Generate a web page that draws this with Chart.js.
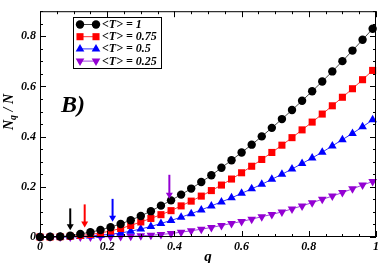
<!DOCTYPE html>
<html lang="en">
<head>
    <meta charset="UTF-8">
    <title>Nq / N vs q</title>
    <script src="https://cdn.jsdelivr.net/npm/chart.js"></script>
    <style>
        html, body { margin: 0; padding: 0; background: #fff; }
        #wrap { position: relative; width: 382px; height: 263px; }
    </style>
</head>
<body>
    <div id="wrap"><canvas id="chart" width="382" height="263"></canvas></div>
    <script>
        // q values (x axis)
        const q = [0.00, 0.03, 0.06, 0.09, 0.12, 0.15, 0.18, 0.21, 0.24, 0.27,
                   0.30, 0.33, 0.36, 0.39, 0.42, 0.45, 0.48, 0.51, 0.54, 0.57,
                   0.60, 0.63, 0.66, 0.69, 0.72, 0.75, 0.78, 0.81, 0.84, 0.87,
                   0.90, 0.93, 0.96, 0.99];

        const seriesLabels = ['1', '0.75', '0.5', '0.25'];

        const t100 = [0.000, 0.001, 0.002, 0.005, 0.012, 0.019, 0.028, 0.039, 0.052, 0.067,
                      0.084, 0.103, 0.125, 0.146, 0.169, 0.193, 0.219, 0.246, 0.276, 0.306,
                      0.337, 0.368, 0.401, 0.435, 0.470, 0.506, 0.543, 0.581, 0.620, 0.660,
                      0.701, 0.743, 0.786, 0.830];
        const t075 = [0.000, 0.000, 0.001, 0.003, 0.006, 0.010, 0.016, 0.024, 0.034, 0.046,
                      0.060, 0.074, 0.089, 0.105, 0.124, 0.143, 0.163, 0.185, 0.207, 0.231,
                      0.256, 0.282, 0.309, 0.337, 0.366, 0.396, 0.427, 0.458, 0.490, 0.523,
                      0.557, 0.591, 0.627, 0.664];
        const t050 = [0.000, 0.000, 0.000, 0.001, 0.002, 0.004, 0.007, 0.011, 0.016, 0.023,
                      0.032, 0.042, 0.054, 0.066, 0.079, 0.093, 0.108, 0.124, 0.140, 0.156,
                      0.174, 0.192, 0.210, 0.230, 0.250, 0.271, 0.293, 0.315, 0.338, 0.363,
                      0.388, 0.413, 0.439, 0.467];
        const t025 = [0.000, 0.000, 0.000, 0.000, 0.000, 0.000, 0.001, 0.001, 0.002, 0.003,
                      0.005, 0.007, 0.010, 0.014, 0.019, 0.025, 0.031, 0.038, 0.046, 0.054,
                      0.062, 0.071, 0.081, 0.090, 0.100, 0.112, 0.124, 0.137, 0.150, 0.163,
                      0.177, 0.192, 0.207, 0.221];

        // threshold arrows: q position, top and tip (in N_q/N units)
        const arrowQ   = [0.09, 0.133, 0.216, 0.385];
        const arrowTop = [0.114, 0.130, 0.152, 0.248];
        const arrowTip = [0.027, 0.038, 0.061, 0.152];

        const xTicks = [0, 0.2, 0.4, 0.6, 0.8, 1];
        const yTicks = [0, 0.2, 0.4, 0.6, 0.8];

        const colors = ['#000000', '#ff0000', '#0000ff', '#9400d3'];
        const lineColors = ['#444444', '#ff3030', '#3030ff', '#a040e0'];
        const shapes = ['circle', 'rect', 'triangle', 'triangle'];
        const rotations = [0, 0, 0, 180];
        const radii = [4.2, 5, 5, 5];

        const seriesData = [t100, t075, t050, t025];
        const serif = "'Liberation Serif', 'DejaVu Serif', serif";

        const datasets = seriesData.map((vals, k) => ({
            label: '<T> = ' + seriesLabels[k],
            data: q.map((x, i) => ({ x: x, y: vals[i] })),
            borderColor: lineColors[k],
            borderWidth: 1,
            backgroundColor: colors[k],
            pointBackgroundColor: colors[k],
            pointBorderColor: colors[k],
            pointBorderWidth: 0,
            pointStyle: shapes[k],
            pointRotation: rotations[k],
            pointRadius: radii[k],
            tension: 0,
            clip: false
        }));

        const decorPlugin = {
            id: 'decor',
            afterDraw(chart) {
                const ctx = chart.ctx;
                const xs = chart.scales.x, ys = chart.scales.y;
                const a = chart.chartArea;
                ctx.save();

                // frame
                ctx.strokeStyle = '#000';
                ctx.lineWidth = 1;
                ctx.strokeRect(a.left + 0.5, a.top + 0.5, a.right - a.left - 1, a.bottom - a.top - 1);

                // inward ticks on all four sides
                ctx.beginPath();
                for (let v = 0; v <= 1.0001; v += 0.05) {
                    const px = Math.round(xs.getPixelForValue(v)) + 0.5;
                    const major = Math.abs(v / 0.2 - Math.round(v / 0.2)) < 1e-6;
                    const len = major ? 6 : 3;
                    ctx.moveTo(px, a.bottom); ctx.lineTo(px, a.bottom - len);
                    ctx.moveTo(px, a.top); ctx.lineTo(px, a.top + len);
                }
                for (let v = 0; v <= 0.9001; v += 0.05) {
                    const py = Math.round(ys.getPixelForValue(v)) + 0.5;
                    const major = Math.abs(v / 0.2 - Math.round(v / 0.2)) < 1e-6;
                    const len = major ? 6 : 3;
                    ctx.moveTo(a.left, py); ctx.lineTo(a.left + len, py);
                    ctx.moveTo(a.right, py); ctx.lineTo(a.right - len, py);
                }
                ctx.stroke();

                // arrows
                for (let k = 0; k < arrowQ.length; k++) {
                    const px = xs.getPixelForValue(arrowQ[k]);
                    const pt = ys.getPixelForValue(arrowTop[k]);
                    const pb = ys.getPixelForValue(arrowTip[k]);
                    ctx.strokeStyle = colors[k];
                    ctx.fillStyle = colors[k];
                    ctx.lineWidth = 2;
                    ctx.beginPath();
                    ctx.moveTo(px, pt); ctx.lineTo(px, pb - 5);
                    ctx.stroke();
                    ctx.beginPath();
                    ctx.moveTo(px - 3.5, pb - 6);
                    ctx.lineTo(px + 3.5, pb - 6);
                    ctx.lineTo(px, pb);
                    ctx.closePath();
                    ctx.fill();
                }

                // panel label
                ctx.fillStyle = '#000';
                ctx.font = "bold italic 24px " + serif;
                ctx.textAlign = 'left';
                ctx.textBaseline = 'alphabetic';
                ctx.fillText('B)', 61, 112);

                // x title
                ctx.font = "bold italic 15px " + serif;
                ctx.textAlign = 'center';
                ctx.fillText('q', (a.left + a.right) / 2, 261);

                // y title: N_q / N rotated
                ctx.save();
                ctx.translate(13, 112);
                ctx.rotate(-Math.PI / 2);
                ctx.textAlign = 'left';
                ctx.font = "bold italic 14px " + serif;
                const wN = ctx.measureText('N').width;
                ctx.font = "bold italic 10px " + serif;
                const wq = ctx.measureText('q').width;
                ctx.font = "bold italic 14px " + serif;
                const wRest = ctx.measureText(' / N').width;
                let x0 = -(wN + wq + wRest) / 2;
                ctx.fillText('N', x0, 0);
                ctx.font = "bold italic 10px " + serif;
                ctx.fillText('q', x0 + wN, 3);
                ctx.font = "bold italic 14px " + serif;
                ctx.fillText(' / N', x0 + wN + wq, 0);
                ctx.restore();

                // legend
                const bx = 73, by = 17, bw = 88, bh = 51;
                ctx.fillStyle = '#fff';
                ctx.fillRect(bx, by, bw, bh);
                ctx.strokeStyle = '#000';
                ctx.lineWidth = 1;
                ctx.strokeRect(bx + 0.5, by + 0.5, bw, bh);
                for (let k = 0; k < datasets.length; k++) {
                    const yy = 24.5 + k * 12.2;
                    ctx.strokeStyle = lineColors[k];
                    ctx.lineWidth = 1;
                    ctx.beginPath();
                    ctx.moveTo(80, yy); ctx.lineTo(96, yy);
                    ctx.stroke();
                    const opts = { pointStyle: shapes[k], rotation: rotations[k], radius: radii[k], borderWidth: 0 };
                    ctx.fillStyle = colors[k];
                    ctx.strokeStyle = colors[k];
                    Chart.helpers.drawPoint(ctx, opts, 80, yy);
                    Chart.helpers.drawPoint(ctx, opts, 96, yy);
                    ctx.fillStyle = '#000';
                    ctx.font = "bold italic 12px " + serif;
                    ctx.textAlign = 'left';
                    ctx.textBaseline = 'middle';
                    ctx.fillText('<T> = ' + seriesLabels[k], 102, yy + 0.5);
                }
                ctx.restore();
            }
        };

        const tickFont = { family: serif, size: 12, weight: 'bold', style: 'italic' };

        new Chart(document.getElementById('chart').getContext('2d'), {
            type: 'line',
            data: { datasets: datasets },
            options: {
                responsive: false,
                animation: false,
                events: [],
                layout: { padding: { top: 1, right: 4, left: 0, bottom: 0 } },
                plugins: { legend: { display: false }, tooltip: { enabled: false } },
                scales: {
                    x: {
                        type: 'linear',
                        min: 0, max: 1,
                        grid: { display: false, drawTicks: false },
                        border: { display: false },
                        afterBuildTicks: s => { s.ticks = xTicks.map(v => ({ value: v })); },
                        afterFit: s => { s.height = 26; },
                        ticks: {
                            color: '#000', font: tickFont, padding: 3, maxRotation: 0,
                            callback: v => String(v)
                        }
                    },
                    y: {
                        type: 'linear',
                        min: 0, max: 0.9,
                        grid: { display: false, drawTicks: false },
                        border: { display: false },
                        afterBuildTicks: s => { s.ticks = yTicks.map(v => ({ value: v })); },
                        afterFit: s => { s.width = 40; },
                        ticks: {
                            color: '#000', font: tickFont, padding: 4,
                            callback: v => String(v)
                        }
                    }
                }
            },
            plugins: [decorPlugin]
        });
    </script>
</body>
</html>
